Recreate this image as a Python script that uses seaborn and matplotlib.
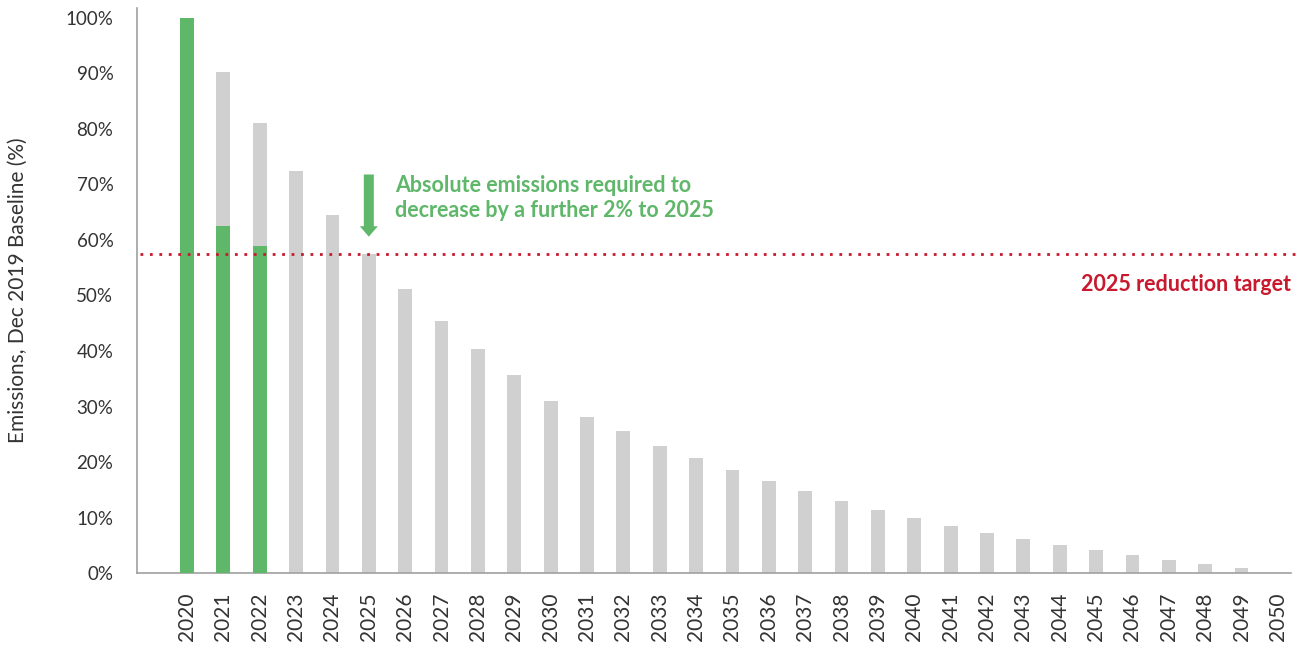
import matplotlib
matplotlib.use("Agg")
import matplotlib.pyplot as plt
import seaborn as sns
import pandas as pd

years = [str(y) for y in range(2020, 2051)]
projected = [100, 90.3, 81.0, 72.4, 64.5, 57.5, 51.2, 45.4, 40.4, 35.7, 31.0,
             28.1, 25.6, 22.9, 20.7, 18.6, 16.6, 14.8, 13.0, 11.4, 9.9,
             8.5, 7.2, 6.1, 5.0, 4.1, 3.2, 2.3, 1.6, 0.9, 0.0]
actual_years = ["2020", "2021", "2022"]
actual = [100, 62.6, 58.9]
target_value = 57.5
y_ticks = [0, 10, 20, 30, 40, 50, 60, 70, 80, 90, 100]

GREEN = "#5fb76a"
GREY = "#d0d0d0"
RED = "#c8192e"
TEXT = "#333333"

sns.set_style("white")
plt.rcParams["font.family"] = ["Lato", "DejaVu Sans"]

fig = plt.figure(figsize=(13.06, 6.48), dpi=100)
ax = fig.add_axes([0.1049, 0.1157, 0.8836, 0.872])

df_proj = pd.DataFrame({"year": years, "value": projected})
df_act = pd.DataFrame({"year": actual_years, "value": actual})

sns.barplot(data=df_proj, x="year", y="value", order=years, color=GREY,
            width=0.38, saturation=1, linewidth=0, ax=ax, zorder=2)
sns.barplot(data=df_act, x="year", y="value", order=years, color=GREEN,
            width=0.38, saturation=1, linewidth=0, ax=ax, zorder=3)

ax.set_xlim(-1.375, 30.36)
ax.set_ylim(0, 101.8)
ax.set_yticks(y_ticks)
ax.set_yticklabels([f"{t}%" for t in y_ticks], fontsize=13.5, color=TEXT)
ax.tick_params(axis="y", length=0, pad=17)
ax.tick_params(axis="x", length=0, pad=14)
for lbl in ax.get_xticklabels():
    lbl.set_rotation(90)
    lbl.set_fontsize(15)
    lbl.set_color(TEXT)
ax.set_xlabel("")
ax.set_ylabel("Emissions, Dec 2019 Baseline (%)", fontsize=15, color=TEXT, labelpad=27)

for s in ["top", "right"]:
    ax.spines[s].set_visible(False)
for s in ["left", "bottom"]:
    ax.spines[s].set_color("#a0a0a0")
    ax.spines[s].set_linewidth(1.2)

# target line
ax.plot([-1.3, 30.5], [target_value, target_value], linestyle=(0, (1, 2.4)),
        color=RED, linewidth=2, clip_on=False, zorder=4)
ax.text(30.36, 51.9, "2025 reduction target", color=RED,
        fontsize=15.5, fontweight="bold", ha="right", va="center")

# arrow and annotation
ax.annotate("", xy=(5, 60.6), xytext=(5, 71.8),
            arrowprops=dict(arrowstyle="simple,head_width=1.3,head_length=0.75,tail_width=0.72",
                            color=GREEN, lw=0, shrinkA=0, shrinkB=0), zorder=5)
ax.text(5.72, 67.6, "Absolute emissions required to\ndecrease by a further 2% to 2025",
        color=GREEN, fontsize=15.5, fontweight="bold", ha="left", va="center",
        linespacing=1.2)

fig.savefig("out.png", dpi=100)
